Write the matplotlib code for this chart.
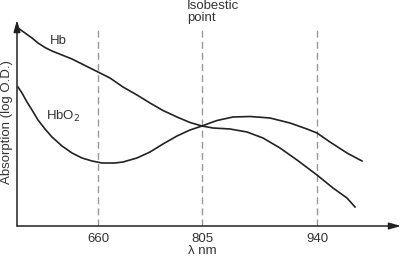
import matplotlib
matplotlib.use('Agg')
import matplotlib.pyplot as plt

plt.rcParams['font.family'] = ['Liberation Sans', 'DejaVu Sans']

# Positions along the (non-linear) wavelength axis, in plot units
tick_pos = [81, 185, 300]
tick_labels = ['660', '805', '940']

# Hb (deoxyhaemoglobin) curve
hb_x = [1, 8, 15, 21, 28, 35, 45, 55, 65, 75, 81, 93, 106, 120, 133, 146,
        160, 173, 185, 196, 213, 230, 246, 263, 280, 300, 316, 330, 338]
hb_y = [198, 193, 188, 183, 178.5, 175, 171, 167, 162, 157, 154, 148, 139, 131,
        123, 115.5, 109, 103.5, 100, 98, 97, 94, 88, 78, 66, 51, 38, 28, 19]

# HbO2 (oxyhaemoglobin) curve
hbo2_x = [1, 5, 10, 15, 21, 28, 35, 45, 55, 65, 75, 85, 98, 106, 120, 133,
          146, 160, 173, 185, 193, 200, 216, 233, 253, 273, 290, 300, 313,
          330, 345]
hbo2_y = [139, 133, 124, 116, 106, 97, 89, 80, 73, 68, 65, 63, 63, 64, 68,
          74, 82, 90, 96, 100, 103, 105.5, 109, 109.5, 108, 103, 97, 93, 84, 73, 65]

W, H = 402, 257
fig = plt.figure(figsize=(W / 100, H / 100), dpi=100)
ax = fig.add_axes([17 / W, 31 / H, 384 / W, 206 / H])
ax.set_xlim(0, 384)
ax.set_ylim(0, 206)
for s in ax.spines.values():
    s.set_visible(False)
ax.set_yticks([])

# axes with arrow heads
arrow = dict(arrowstyle='-|>,head_length=0.7,head_width=0.2', color='#222222', lw=1.1,
             shrinkA=0, shrinkB=0)
ax.annotate('', xy=(384, 0), xytext=(0, 0), arrowprops=arrow, annotation_clip=False)
ax.annotate('', xy=(0, 206), xytext=(0, 0), arrowprops=arrow, annotation_clip=False)

# dashed reference wavelengths
ax.vlines(tick_pos, 0, 200, colors='#999999', linewidth=1, linestyles=(0, (5, 3)))

ax.plot(hb_x, hb_y, color='#222222', lw=1.2, solid_joinstyle='round')
ax.plot(hbo2_x, hbo2_y, color='#222222', lw=1.2, solid_joinstyle='round')

ax.set_xticks(tick_pos)
ax.set_xticklabels(tick_labels, fontsize=9.5, color='#333333')
ax.tick_params(axis='x', length=0, pad=5)

ax.text(33, 185, 'Hb', fontsize=9.5, color='#333333', va='center')
ax.text(29, 110, 'HbO$_2$', fontsize=9.5, color='#333333', va='center')

fig.text(187 / W, 1 - 0 / H, 'Isobestic\npoint', fontsize=9.5, color='#333333',
         va='top', ha='left', linespacing=1.0)
fig.text(202 / W, 1 - 251 / H, 'λ nm', fontsize=9.5, color='#333333',
         va='center', ha='center')
fig.text(7 / W, 1 - 122 / H, 'Absorption (log O.D.)', fontsize=9.5, color='#333333',
         va='center', ha='center', rotation=90)

fig.savefig('out.png', dpi=100)
